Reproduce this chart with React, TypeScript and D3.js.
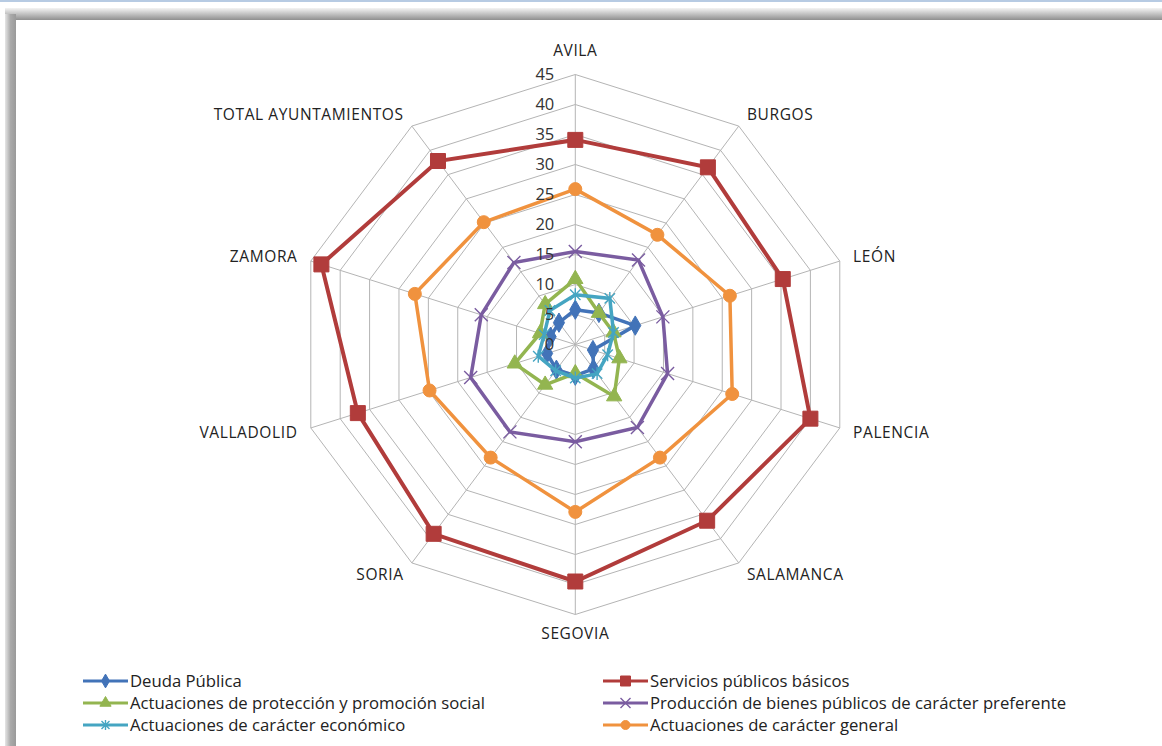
import React from "react";
import * as d3 from "d3";

const categories = [
  "AVILA",
  "BURGOS",
  "LEÓN",
  "PALENCIA",
  "SALAMANCA",
  "SEGOVIA",
  "SORIA",
  "VALLADOLID",
  "ZAMORA",
  "TOTAL AYUNTAMIENTOS",
];
const tickValues = [0, 5, 10, 15, 20, 25, 30, 35, 40, 45];

const deuda = [5.8, 6.5, 10.2, 3, 5, 5.2, 5.2, 4.8, 4.2, 4.5];
const servicios = [34.1, 36.5, 35.3, 40, 36.3, 39.5, 39, 37, 43.2, 37.8];
const proteccion = [10.9, 6.5, 6.5, 7.5, 10.7, 4.8, 8.3, 10.3, 6, 8.3];
const produccion = [15.5, 17.4, 14.9, 15.7, 17.1, 16.2, 18, 17.8, 16, 16.9];
const economico = [8.3, 9.5, 6.5, 5.5, 6, 5.6, 5.4, 6.3, 5.3, 7];
const general = [25.9, 22.6, 26.3, 26.7, 23.3, 27.9, 23.3, 24.8, 27.3, 25.2];

const seriesNames = [
  "Deuda Pública",
  "Servicios públicos básicos",
  "Actuaciones de protección y promoción social",
  "Producción de bienes públicos de carácter preferente",
  "Actuaciones de carácter económico",
  "Actuaciones de carácter general",
];
const seriesValues = [deuda, servicios, proteccion, produccion, economico, general];
const colors = ["#4273b8", "#b13c3b", "#93b550", "#7a5ca0", "#45a5c2", "#f0923e"];
const markers = ["diamond", "square", "triangle", "x", "star", "circle"];

const W = 1162;
const H = 746;
const cx = 575.3;
const cy = 344.5;
const R = 270;
const sx = 1.03; // picture is a little wider than tall

const font = "'Open Sans', 'DejaVu Sans', sans-serif";

function Marker({ type, x, y, color, s }: { type: string; x: number; y: number; color: string; s: number }) {
  if (type === "x") {
    const h = s * 0.5;
    return (
      <path
        d={`M${x - h},${y - h}L${x + h},${y + h}M${x - h},${y + h}L${x + h},${y - h}`}
        stroke={color}
        strokeWidth={1.4}
        fill="none"
      />
    );
  }
  if (type === "star") {
    const h = s * 0.5;
    const d = h * 0.8;
    return (
      <path
        d={`M${x - d},${y - d}L${x + d},${y + d}M${x - d},${y + d}L${x + d},${y - d}M${x},${y - h}L${x},${y + h}`}
        stroke={color}
        strokeWidth={1.4}
        fill="none"
      />
    );
  }
  const symType =
    type === "diamond"
      ? d3.symbolDiamond
      : type === "square"
      ? d3.symbolSquare
      : type === "triangle"
      ? d3.symbolTriangle
      : d3.symbolCircle;
  const area =
    type === "diamond" ? s * s * 0.55 : type === "triangle" ? s * s * 0.45 : type === "circle" ? (Math.PI * s * s) / 4 : s * s;
  const p = d3.symbol().type(symType).size(area)() as string;
  return <path d={p} transform={`translate(${x},${y})`} fill={color} stroke={color} strokeWidth={1} />;
}

export default function App() {
  const r = d3.scaleLinear().domain([0, 45]).range([0, R]);
  const angle = d3
    .scaleLinear()
    .domain([0, categories.length])
    .range([0, 2 * Math.PI]);

  const pt = (i: number, v: number): [number, number] => {
    const a = angle(i);
    return [cx + r(v) * Math.sin(a) * sx, cy - r(v) * Math.cos(a)];
  };

  const ring = (v: number) => {
    const pts = categories.map((_, i) => pt(i, v));
    return d3.line().curve(d3.curveLinearClosed)(pts) as string;
  };

  return (
    <svg
      width={W}
      height={H}
      style={{ position: "absolute", left: 0, top: 0, background: "#fff" }}
      fontFamily={font}
    >
      <defs>
        <linearGradient id="topShade" x1="0" y1="0" x2="0" y2="1">
          <stop offset="0" stopColor="#f4f4f4" />
          <stop offset="1" stopColor="#8f8f8f" />
        </linearGradient>
        <linearGradient id="leftShade" x1="0" y1="0" x2="1" y2="0">
          <stop offset="0" stopColor="#e6e6e6" />
          <stop offset="0.5" stopColor="#aaaaaa" />
          <stop offset="1" stopColor="#9a9a9a" />
        </linearGradient>
      </defs>
      <rect x={0} y={0} width={W} height={2} fill="#b7cbe3" />
      <rect x={5} y={8} width={W - 5} height={12} fill="url(#topShade)" />
      <rect x={5} y={14} width={11} height={H - 14} fill="url(#leftShade)" />
      <rect x={16} y={20} width={W - 16} height={H - 20} fill="#ffffff" />

      {/* grid rings */}
      <g fill="none" stroke="#b4b4b4" strokeWidth={1}>
        {tickValues.slice(1).map((t) => (
          <path key={t} d={ring(t)} />
        ))}
        {categories.map((c, i) => {
          const [x, y] = pt(i, 45);
          return <line key={c} x1={cx} y1={cy} x2={x} y2={y} />;
        })}
      </g>

      {/* category labels */}
      <g fontSize={15.5} fill="#222" letterSpacing={0.6}>
        {categories.map((c, i) => {
          const a = angle(i);
          const s = Math.sin(a);
          const co = Math.cos(a);
          const [x, y] = pt(i, 45);
          const vertical = Math.abs(s) < 0.1;
          const d = vertical ? (co > 0 ? 24 : 19) : 14;
          const anchor = vertical ? "middle" : s > 0 ? "start" : "end";
          return (
            <text key={c} x={x + s * d} y={y - co * d} dy="0.35em" textAnchor={anchor}>
              {c}
            </text>
          );
        })}
      </g>

      {/* series */}
      {seriesValues.map((vals, si) => {
        const pts = vals.map((v, i) => pt(i, v));
        const path = d3.line().curve(d3.curveLinearClosed)(pts) as string;
        const lw = si === 1 ? 4 : 3.5;
        const ms = si === 1 ? 15 : si === 5 ? 13 : si === 2 ? 15 : si === 0 ? 14 : 13;
        return (
          <g key={seriesNames[si]}>
            <path d={path} fill="none" stroke={colors[si]} strokeWidth={lw} strokeLinejoin="miter" />
            {pts.map(([x, y], i) => (
              <Marker key={i} type={markers[si]} x={x} y={y} color={colors[si]} s={ms} />
            ))}
          </g>
        );
      })}

      {/* value labels, drawn above the lines */}
      <g fontSize={16.5} fill="#333" textAnchor="end">
        {tickValues.map((t) => (
          <text key={t} x={cx - 21} y={cy - r(t)} dy="0.35em">
            {t}
          </text>
        ))}
      </g>

      {/* legend */}
      <g fontSize={16.7} fill="#222">
        {seriesNames.map((n, si) => {
          const col = si % 2;
          const row = Math.floor(si / 2);
          const x0 = col === 0 ? 83 : 603;
          const y = 681 + row * 22;
          const ms = si === 1 ? 10 : si === 5 ? 9 : si === 2 ? 11 : 10;
          return (
            <g key={n}>
              <line x1={x0} x2={x0 + 45} y1={y} y2={y} stroke={colors[si]} strokeWidth={3} />
              <Marker type={markers[si]} x={x0 + 22.5} y={y} color={colors[si]} s={ms} />
              <text x={x0 + 47} y={y} dy="0.35em">
                {n}
              </text>
            </g>
          );
        })}
      </g>
    </svg>
  );
}
